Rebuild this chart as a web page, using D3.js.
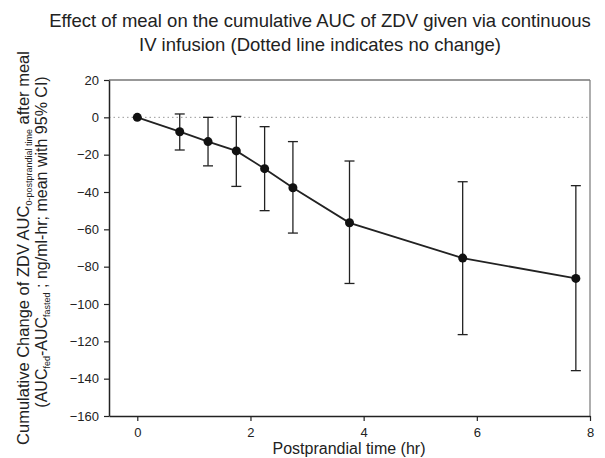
<!DOCTYPE html>
<html>
<head>
<meta charset="utf-8">
<script src="https://cdn.jsdelivr.net/npm/d3@7"></script>
<style>
  body { margin: 0; background: #fff; }
  svg { font-family: "Liberation Sans", Arial, sans-serif; }
</style>
</head>
<body>
<div id="chart"></div>
<script>
// postprandial time (hr), mean change and 95% CI bounds
const times = [0, 0.75, 1.25, 1.75, 2.25, 2.75, 3.75, 5.75, 7.75];
const means = [0, -7.7, -13, -18, -27.5, -37.7, -56.5, -75.4, -86.3];
const ciLow = [null, -17.5, -26, -37, -50, -62, -89, -116.4, -135.7];
const ciHigh = [null, 1.8, 0, 0.5, -5, -13, -23.4, -34.5, -36.6];
const xTicks = [0, 2, 4, 6, 8];
const yTicks = [20, 0, -20, -40, -60, -80, -100, -120, -140, -160];

const W = 605, H = 458;
const svg = d3.select("#chart").append("svg").attr("width", W).attr("height", H);

const x = d3.scaleLinear().domain([-0.5, 8]).range([109, 590]);
const y = d3.scaleLinear().domain([-160, 20]).range([416, 80]);

// frame (top/right lighter)
svg.append("line").attr("x1", 109).attr("x2", 590).attr("y1", 80).attr("y2", 80)
    .attr("stroke", "#333").attr("stroke-width", 1.2);
svg.append("line").attr("x1", 590).attr("x2", 590).attr("y1", 80).attr("y2", 416)
    .attr("stroke", "#777").attr("stroke-width", 1.2);

// zero reference line
svg.append("line").attr("x1", 109).attr("x2", 590).attr("y1", y(0)).attr("y2", y(0))
    .attr("stroke", "#999").attr("stroke-width", 1).attr("stroke-dasharray", "1.5,3");

const yAxis = svg.append("g").attr("transform", "translate(109,0)")
    .call(d3.axisLeft(y).tickValues(yTicks).tickSize(5).tickSizeOuter(0));
const xAxis = svg.append("g").attr("transform", "translate(0,416)")
    .call(d3.axisBottom(x).tickValues(xTicks).tickSize(5).tickSizeOuter(0));
[yAxis, xAxis].forEach(g => {
    g.select(".domain").attr("stroke", "#222").attr("stroke-width", 1.5);
    g.selectAll(".tick line").attr("stroke", "#222").attr("stroke-width", 1.2);
    g.selectAll("text").attr("fill", "#222").style("font-size", "13px")
        .style("font-family", "'Liberation Sans', Arial, sans-serif");
});
yAxis.selectAll("text").attr("x", -10);
xAxis.selectAll("text").attr("y", 12);

// error bars
const pts = times.map((t, i) => ({ t, m: means[i], lo: ciLow[i], hi: ciHigh[i] }));
const eb = svg.append("g").attr("stroke", "#222").attr("stroke-width", 1.3);
pts.filter(d => d.lo !== null).forEach(d => {
    eb.append("line").attr("x1", x(d.t)).attr("x2", x(d.t)).attr("y1", y(d.hi)).attr("y2", y(d.lo));
    [d.hi, d.lo].forEach(v => eb.append("line")
        .attr("x1", x(d.t) - 5).attr("x2", x(d.t) + 5).attr("y1", y(v)).attr("y2", y(v)));
});

// mean line + markers
svg.append("path").datum(pts)
    .attr("d", d3.line().x(d => x(d.t)).y(d => y(d.m)))
    .attr("fill", "none").attr("stroke", "#222").attr("stroke-width", 1.8);
svg.selectAll(".pt").data(pts).enter().append("circle")
    .attr("cx", d => x(d.t)).attr("cy", d => y(d.m)).attr("r", 4.5).attr("fill", "#111");

// title
const title = svg.append("text").attr("text-anchor", "middle").attr("fill", "#222")
    .style("font-size", "18.5px");
title.append("tspan").attr("x", 320).attr("y", 27)
    .text("Effect of meal on the cumulative AUC of ZDV given via continuous");
title.append("tspan").attr("x", 320).attr("y", 51)
    .text("IV infusion (Dotted line indicates no change)");

// x title
svg.append("text").attr("x", 349).attr("y", 454).attr("text-anchor", "middle")
    .attr("fill", "#222").style("font-size", "16px").text("Postprandial time (hr)");

// y title (two lines with subscripts)
const yt1 = svg.append("text").attr("text-anchor", "middle").attr("fill", "#222")
    .style("font-size", "16.5px").attr("transform", "translate(29,248) rotate(-90)");
yt1.append("tspan").text("Cumulative Change of ZDV AUC");
yt1.append("tspan").attr("dy", 3).style("font-size", "9px").text("0-postprandial time");
yt1.append("tspan").attr("dy", -3).text(" after meal");

const yt2 = svg.append("text").attr("text-anchor", "middle").attr("fill", "#222")
    .style("font-size", "16px").attr("transform", "translate(47,242) rotate(-90)");
yt2.append("tspan").text("(AUC");
yt2.append("tspan").attr("dy", 3).style("font-size", "9px").text("fed");
yt2.append("tspan").attr("dy", -3).text("-AUC");
yt2.append("tspan").attr("dy", 3).style("font-size", "9px").text("fasted");
yt2.append("tspan").attr("dy", -3).text(" ; ng/ml-hr; mean with 95% CI)");
</script>
</body>
</html>
